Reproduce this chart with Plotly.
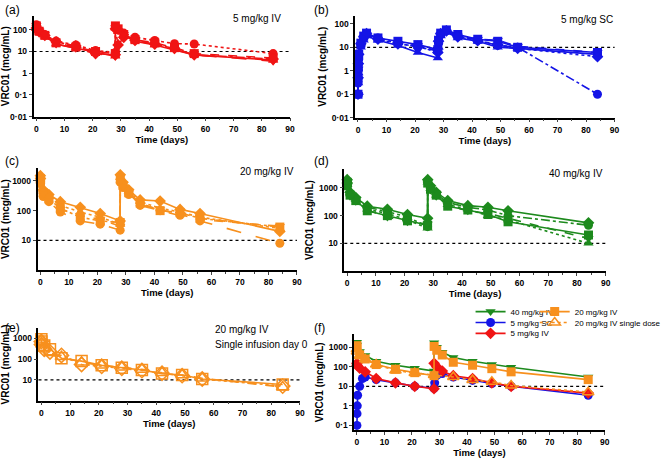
import plotly.graph_objects as go

W, H = 666, 461

# ---------------- data ----------------
T_IV = [0, 0.04, 1, 3, 7, 14, 21, 28, 28.04, 29, 31, 35, 42, 49, 56, 84]
T_SC = [0, 0.04, 0.125, 0.25, 1, 2, 3, 7, 14, 21, 28, 28.25, 29, 31, 35, 42, 49, 56, 84]
T_SINGLE = [0, 0.04, 1, 3, 7, 14, 21, 28, 35, 42, 49, 56, 84]

# (a) 5 mg/kg IV, individual subjects
A_S1 = [170, 140, 95, 60, 30, 20, 11, 9, 140, 100, 70, 45, 32, 23, 22, 8]
A_S2 = [150, 120, 85, 55, 25, 16, 10, 8, 150, 110, 60, 35, 25, 15, 8, 5]
A_S3 = [130, 110, 75, 50, 22, 14, 9, 6, 120, 80, 55, 30, 20, 12, 7, 4]
A_S4 = [120, 100, 80, 55, 28, 18, 8, 7, 110, 20, 45, 32, 22, 14, 7, 4.5]
A_S5 = [160, 130, 90, 60, 22, 14, 8, 6, 130, 90, 60, 30, 22, 12, 7, 3.6]

# (b) 5 mg/kg SC
B_S1 = [0.1, 0.5, 1.5, 5, 15, 30, 40, 25, 18, 13, 8, 20, 40, 55, 35, 22, 18, 10, 6]
B_S2 = [0.1, 0.3, 1, 3, 12, 25, 35, 25, 15, 10, 7, 15, 35, 50, 30, 20, 12, 10, 0.1]
B_S3 = [0.1, 0.3, 0.8, 2.5, 10, 20, 30, 20, 12, 6, 3.5, 10, 30, 45, 25, 18, 10, 9, 5]
B_S4 = [0.1, 0.5, 2, 5, 14, 28, 38, 22, 14, 11, 6, 18, 38, 50, 28, 19, 13, 9, 4]
B_S5 = [0.1, 0.4, 1.2, 4, 13, 26, 36, 22, 15, 12, 7, 16, 36, 48, 30, 22, 20, 11, 6]

# (c) 20 mg/kg IV
C_S1 = [1500, 1200, 500, 350, 200, 130, 80, 45, 1600, 900, 500, 230, 210, 110, 80, 20]
C_S2 = [1000, 800, 300, 200, 90, 45, 35, 22, 900, 600, 350, 150, 100, 70, 45, 8]
C_S3 = [1200, 900, 400, 250, 120, 60, 45, 40, 1100, 700, 400, 180, 100, 85, 55, 28]
C_S4 = [1300, 1000, 450, 300, 150, 90, 60, 35, 1300, 800, 450, 200, 120, 90, 60, 25]
C_S5 = [1100, 850, 380, 220, 110, 70, 50, 30, 1000, 650, 380, 160, 110, 75, 50, 30]

# (d) 40 mg/kg IV
D_S1 = [2000, 1500, 700, 450, 220, 170, 110, 80, 2000, 1200, 700, 350, 230, 200, 150, 55]
D_S2 = [1800, 1300, 600, 400, 200, 140, 90, 40, 1800, 1000, 600, 300, 200, 160, 100, 45]
D_S3 = [1600, 1200, 550, 350, 150, 100, 65, 45, 1500, 900, 550, 220, 160, 110, 60, 20]
D_S4 = [1700, 1300, 600, 380, 170, 120, 70, 35, 1600, 950, 550, 250, 170, 100, 70, 10]
D_S5 = [1500, 1100, 500, 330, 160, 90, 60, 50, 1400, 850, 500, 230, 150, 120, 80, 15]

# (e) 20 mg/kg IV single infusion day 0
E_S1 = [900, 700, 450, 300, 110, 80, 50, 38, 30, 20, 17, 11, 6]
E_S2 = [800, 600, 350, 200, 130, 70, 50, 40, 32, 22, 17, 12, 4.5]
E_S3 = [700, 500, 300, 220, 150, 55, 45, 36, 28, 21, 16, 11, 5]

# (f) group means
F_40IV = [1800, 1300, 600, 380, 190, 120, 85, 60, 1700, 1000, 550, 300, 190, 130, 95, 30]
F_20IV = [1200, 900, 400, 250, 130, 75, 50, 35, 1100, 700, 400, 170, 120, 80, 55, 22]
F_20SINGLE = [800, 600, 370, 240, 130, 65, 48, 38, 30, 21, 17, 11, 5]
F_5SC = [0.1, 0.4, 1, 3.5, 10, 25, 30, 22, 15, 10, 8, 15, 35, 45, 30, 20, 14, 10, 3.5]
F_5IV = [150, 120, 85, 55, 25, 15, 10, 7.5, 150, 100, 60, 35, 25, 15, 10, 4.5]

RED = "#f01414"
BLUE = "#1414e6"
ORANGE = "#f7901e"
GREEN = "#1d8a1d"

FONT = "Liberation Sans, Arial, sans-serif"

fig = go.Figure()

panels = {
    "a": dict(px=(33, 293), py=(16, 118), yr=[-2, 2.64], tv=[0.01, 0.1, 1, 10, 100]),
    "b": dict(px=(359, 622), py=(16, 119), yr=[-2, 2.34], tv=[0.01, 0.1, 1, 10, 100]),
    "c": dict(px=(37, 300), py=(170, 273), yr=[0, 3.43], tv=[10, 100, 1000]),
    "d": dict(px=(348, 613), py=(171, 274), yr=[0, 3.68], tv=[10, 100, 1000]),
    "e": dict(px=(38, 303), py=(332, 405), yr=[0, 3.48], tv=[10, 100, 1000]),
    "f": dict(px=(358, 612), py=(338, 435), yr=[-1.25, 3.66], tv=[0.1, 1, 10, 100, 1000]),
}


def lab(v):
    return ("%g" % v).replace(".", "\u00b7")


layout_axes = {}
for i, (key, p) in enumerate(panels.items(), start=1):
    xa = "xaxis" if i == 1 else f"xaxis{i}"
    ya = "yaxis" if i == 1 else f"yaxis{i}"
    xref = "x" if i == 1 else f"x{i}"
    yref = "y" if i == 1 else f"y{i}"
    p["xref"], p["yref"] = xref, yref
    layout_axes[xa] = dict(
        domain=[p["px"][0] / W, p["px"][1] / W], anchor=yref, range=[-1, 90],
        tickvals=list(range(0, 100, 10)), ticks="outside", ticklen=3, tickwidth=1.2,
        showline=True, linecolor="black", linewidth=1.5, showgrid=False, zeroline=False,
        tickfont=dict(family=FONT, size=8.5, color="black", weight="bold"),
        minor=dict(tickvals=list(range(5, 90, 10)), ticks="outside", ticklen=2, tickwidth=1),
        title=dict(text="Time (days)", standoff=3,
                   font=dict(family=FONT, size=9.5, color="black", weight="bold")),
    )
    layout_axes[ya] = dict(
        domain=[1 - p["py"][1] / H, 1 - p["py"][0] / H], anchor=xref, type="log", range=p["yr"],
        tickvals=p["tv"], ticktext=[lab(v) for v in p["tv"]], ticks="outside", ticklen=3, tickwidth=1.2,
        showline=True, linecolor="black", linewidth=1.5, showgrid=False, zeroline=False,
        tickfont=dict(family=FONT, size=8.5, color="black", weight="bold"),
        title=dict(text="VRC01 (mcg/mL)", standoff=3,
                   font=dict(family=FONT, size=10, color="black", weight="bold")),
    )

fig.update_layout(**layout_axes)


def add(p, x, y, color, symbol, dash, size=8, name=None, legend=None, open_=False):
    fig.add_trace(go.Scatter(
        x=x, y=y, mode="lines+markers", xaxis=p["xref"], yaxis=p["yref"],
        line=dict(color=color, width=1.6, dash=dash),
        marker=dict(symbol=symbol + ("-open" if open_ else ""), size=size, color=color,
                    line=dict(color=color, width=1.5 if open_ else 0)),
        name=name or "", showlegend=legend is not None, legend=legend or "legend",
        cliponaxis=False,
    ))


subj_style = [("circle", "dot"), ("square", "dash"), ("triangle-up", "solid"),
              ("diamond", "dashdot"), ("triangle-down", "longdash")]
for ys, st in zip([A_S1, A_S2, A_S3, A_S4, A_S5], subj_style):
    add(panels["a"], T_IV, ys, RED, st[0], st[1], size=9)

b_style = [("square", "solid"), ("circle", "dashdot"), ("triangle-up", "solid"),
           ("diamond", "dot"), ("triangle-down", "dash")]
for ys, st in zip([B_S1, B_S2, B_S3, B_S4, B_S5], b_style):
    add(panels["b"], T_SC, ys, BLUE, st[0], st[1], size=9)

c_style = [("diamond", "solid"), ("circle", "longdash"), ("square", "dashdot"),
           ("triangle-up", "dot"), ("triangle-down", "dash")]
for ys, st in zip([C_S1, C_S2, C_S3, C_S4, C_S5], c_style):
    add(panels["c"], T_IV, ys, ORANGE, st[0], st[1], size=9)

d_style = [("diamond", "solid"), ("circle", "dashdot"), ("square", "solid"),
           ("triangle-up", "dot"), ("triangle-down", "dash")]
for ys, st in zip([D_S1, D_S2, D_S3, D_S4, D_S5], d_style):
    add(panels["d"], T_IV, ys, GREEN, st[0], st[1], size=9)

e_style = [("square", "solid"), ("triangle-up", "dash"), ("diamond", "dot")]
for ys, st in zip([E_S1, E_S2, E_S3], e_style):
    add(panels["e"], T_SINGLE, ys, ORANGE, st[0], st[1], size=11, open_=True)

pf = panels["f"]
add(pf, T_IV, F_40IV, GREEN, "triangle-down", "solid", size=9, name="40 mg/kg IV", legend="legend")
add(pf, T_SC, F_5SC, BLUE, "circle", "solid", size=9, name="5 mg/kg SC", legend="legend2")
add(pf, T_IV, F_5IV, RED, "diamond", "solid", size=9, name="5 mg/kg IV", legend="legend3")
add(pf, T_IV, F_20IV, ORANGE, "square", "solid", size=9, name="20 mg/kg IV", legend="legend4")
add(pf, T_SINGLE, F_20SINGLE, ORANGE, "triangle-up", "dot", size=10, name="20 mg/kg IV single dose",
    legend="legend5", open_=True)

for key, p in panels.items():
    fig.add_shape(type="line", xref=p["xref"] + " domain", yref=p["yref"], x0=0, x1=1, y0=10, y1=10,
                  line=dict(color="black", width=1.2, dash="dot"), layer="below")

ann = [
    ("(a)", 2, 10, 12, "left"), ("(b)", 315, 10, 12, "left"),
    ("(c)", 2, 163, 12, "left"), ("(d)", 315, 163, 12, "left"),
    ("(e)", 2, 332, 12, "left"), ("(f)", 315, 332, 12, "left"),
    ("5 mg/kg IV", 233, 19, 10, "left"), ("5 mg/kg SC", 566, 20, 10, "left"),
    ("20 mg/kg IV", 240, 173, 10, "left"), ("40 mg/kg IV", 553, 175, 10, "left"),
    ("20 mg/kg IV", 215, 333, 10, "left"), ("Single infusion day 0", 215, 348, 10, "left"),
]
for text, x, y, s, al in ann:
    fig.add_annotation(text=text, x=x / W, y=1 - y / H, xref="paper", yref="paper",
                       xanchor=al, yanchor="middle", showarrow=False,
                       font=dict(family=FONT, size=s, color="black"))

leg_common = dict(xanchor="left", yanchor="middle", bgcolor="rgba(0,0,0,0)", itemwidth=30,
                  font=dict(family=FONT, size=8, color="black"))
leg_pos = {"legend": (476, 315), "legend2": (476, 326), "legend3": (476, 337),
           "legend4": (541, 315), "legend5": (541, 326)}
fig.update_layout(
    width=W, height=H, margin=dict(l=0, r=0, t=0, b=0),
    paper_bgcolor="white", plot_bgcolor="white",
    **{k: dict(x=v[0] / W, y=1 - v[1] / H, **leg_common) for k, v in leg_pos.items()},
)

fig.write_html("out.html", post_script="document.body.style.margin='0px';",
               config={"displayModeBar": False})
